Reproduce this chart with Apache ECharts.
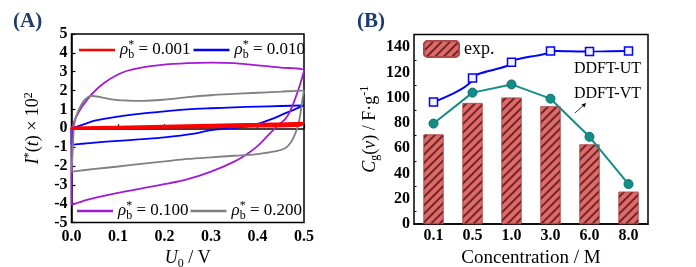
<!DOCTYPE html>
<html><head><meta charset="utf-8">
<script src="https://cdn.jsdelivr.net/npm/echarts@6/dist/echarts.min.js"></script>
<style>html,body{margin:0;padding:0;background:#fff}#c{width:696px;height:267px}</style>
</head><body><div id="c"></div>
<script>
// ---- Panel A data (U0 in V, I*(t) x 10^2) ----
const redU = [0, 0.1, 0.2, 0.3, 0.4, 0.5, 0.5, 0.49, 0.4, 0.3, 0.2, 0.1, 0.0, 0];
const redI = [0.02, 0.07, 0.12, 0.17, 0.22, 0.28, 0.25, 0.15, 0.1, 0.07, 0.04, 0.01, -0.03, 0.02];
const blueU = [0, 0.02, 0.05, 0.1, 0.15, 0.2, 0.25, 0.3, 0.35, 0.4, 0.45, 0.5, 0.48, 0.46, 0.43, 0.4, 0.38, 0.35, 0.3, 0.26, 0.2, 0.15, 0.1, 0.05, 0.02, 0.005, 0, 0];
const blueI = [0, 0.15, 0.4, 0.62, 0.78, 0.9, 1.0, 1.06, 1.11, 1.15, 1.18, 1.21, 1.0, 0.8, 0.48, 0.22, 0.1, 0.02, -0.1, -0.3, -0.48, -0.58, -0.67, -0.76, -0.83, -0.87, -0.87, 0];
const purpleU = [0, 0.005, 0.01, 0.02, 0.03, 0.046, 0.07, 0.1, 0.12, 0.15, 0.19, 0.25, 0.3, 0.35, 0.39, 0.45, 0.5, 0.495, 0.49, 0.48, 0.47, 0.46, 0.445, 0.42, 0.4, 0.38, 0.35, 0.3, 0.25, 0.2, 0.15, 0.1, 0.05, 0.02, 0.005, 0, 0];
const purpleI = [0, 0.3, 0.6, 1.05, 1.4, 1.87, 2.4, 2.85, 3.05, 3.22, 3.35, 3.45, 3.48, 3.45, 3.36, 3.22, 3.07, 2.6, 2.2, 1.5, 0.9, 0.5, 0.18, -0.45, -0.95, -1.32, -1.77, -2.3, -2.7, -2.97, -3.2, -3.43, -3.7, -3.9, -4.02, -4.05, 0];
const grayU = [0, 0.003, 0.005, 0.008, 0.015, 0.025, 0.035, 0.045, 0.06, 0.09, 0.12, 0.155, 0.2, 0.25, 0.3, 0.35, 0.39, 0.45, 0.497, 0.5, 0.497, 0.493, 0.488, 0.48, 0.473, 0.46, 0.44, 0.42, 0.39, 0.35, 0.3, 0.25, 0.2, 0.15, 0.1, 0.05, 0.01, 0];
const grayI = [-2.3, -1, 0, 0.45, 0.95, 1.4, 1.65, 1.71, 1.66, 1.52, 1.47, 1.45, 1.52, 1.65, 1.75, 1.82, 1.87, 1.94, 2.0, 2.0, 1.6, 0.9, 0.2, -0.35, -0.7, -1.05, -1.22, -1.3, -1.4, -1.46, -1.54, -1.63, -1.76, -1.89, -2.03, -2.16, -2.27, -2.3];
const densityNames = ['0.001', '0.010', '0.100', '0.200'];
const xTicksA = ['0.0', '0.1', '0.2', '0.3', '0.4', '0.5'];

// ---- Panel B data ----
const concentrations = ['0.1', '0.5', '1.0', '3.0', '6.0', '8.0'];
const expValues = [70.8, 95.7, 100, 93.1, 62.9, 25.5];
const ddftUT = [96.5, 115.5, 128, 137, 136.5, 137];
const ddftVT = [79.5, 104, 110.5, 99.2, 69, 31.6];

const zip = (a, b) => a.map((v, i) => [v, b[i]]);
const SERIF = "'Liberation Serif','DejaVu Serif',serif";

const chart = echarts.init(document.getElementById('c'), null, {renderer: 'canvas'});

const axisLineStyle = {lineStyle: {color: '#000', width: 1.5}};
const tickLabel = {color: '#000', fontFamily: SERIF, fontWeight: 'bold', fontSize: 16};

const richName = {
  n: {fontFamily: SERIF, fontSize: 18, color: '#000', lineHeight: 22},
  i: {fontFamily: SERIF, fontSize: 18, fontStyle: 'italic', color: '#000', lineHeight: 22},
  sub: {fontFamily: SERIF, fontSize: 12, color: '#000', lineHeight: 12, verticalAlign: 'bottom'},
  sup: {fontFamily: SERIF, fontSize: 12, color: '#000', lineHeight: 12, verticalAlign: 'top'}
};
const richLegend = {
  r: {fontFamily: SERIF, fontSize: 17, fontStyle: 'italic', color: '#000', lineHeight: 22},
  st: {fontFamily: SERIF, fontSize: 12, color: '#000', lineHeight: 11, verticalAlign: 'top', width: 0},
  sb: {fontFamily: SERIF, fontSize: 12, color: '#000', lineHeight: 11, verticalAlign: 'bottom'},
  n: {fontFamily: SERIF, fontSize: 17, color: '#000', lineHeight: 22}
};
const legendFmt = name => '{r|ρ}{st|*}{sb|b}{n| = ' + name + '}';

const colorsA = ['#ff0000', '#0000ff', '#a31ad6', '#808080'];
const loops = [zip(redU, redI), zip(blueU, blueI), zip(purpleU, purpleI), zip(grayU, grayI)];

const seriesA = loops.map((d, k) => ({
  name: densityNames[k], type: 'line', xAxisIndex: 0, yAxisIndex: 0,
  data: d, symbol: 'none', smooth: 0.3, clip: true,
  lineStyle: {color: colorsA[k], width: k === 0 ? 2.5 : 1.8}, itemStyle: {color: colorsA[k]}, z: 3 + (k === 0 ? 2 : 0)
}));

const option = {
  animation: false,
  backgroundColor: '#fff',
  grid: [
    {left: 71.5, top: 34, right: 392, bottom: 44.5, show: true, borderColor: '#000', borderWidth: 1.5, containLabel: false, outerBoundsMode: 'none'},
    {left: 414, top: 34.5, right: 48, bottom: 43, show: true, borderColor: '#000', borderWidth: 1.5, containLabel: false, outerBoundsMode: 'none'}
  ],
  legend: [
    {data: ['0.001', '0.010'], left: 79, top: 39, itemWidth: 36, itemHeight: 2.5, icon: 'rect', itemGap: 3, formatter: legendFmt, textStyle: {rich: richLegend}, padding: 0},
    {data: ['0.100', '0.200'], left: 77, top: 200, itemWidth: 36, itemHeight: 2.5, icon: 'rect', itemGap: 2, formatter: legendFmt, textStyle: {rich: richLegend}, padding: 0},
    {data: ['exp.'], left: 423, top: 40, itemWidth: 35, itemHeight: 16, padding: 0, textStyle: {fontFamily: SERIF, fontSize: 18, color: '#000'}}
  ],
  xAxis: [
    {type: 'value', gridIndex: 0, min: 0, max: 0.5, interval: 0.1,
     axisLine: axisLineStyle, axisTick: {inside: true, length: 4, lineStyle: {color: '#000', width: 1.2}},
     axisLabel: Object.assign({margin: 6, formatter: v => xTicksA[Math.round(v * 10)]}, tickLabel),
     splitLine: {show: false},
     name: '{i|U}{sub|0}{n| / V}', nameLocation: 'middle', nameGap: 19, nameTextStyle: {rich: richName}},
    {type: 'category', gridIndex: 1, data: concentrations,
     axisLine: axisLineStyle, axisTick: {inside: true, length: 4, alignWithLabel: true, lineStyle: {color: '#000', width: 1.2}},
     axisLabel: Object.assign({margin: 4}, tickLabel),
     name: 'Concentration / M', nameLocation: 'middle', nameGap: 16,
     nameTextStyle: {fontFamily: SERIF, fontSize: 19, color: '#000'}}
  ],
  yAxis: [
    {type: 'value', gridIndex: 0, min: -5, max: 5, interval: 1,
     axisLine: axisLineStyle, axisTick: {inside: true, length: 4, lineStyle: {color: '#000', width: 1.2}},
     axisLabel: Object.assign({margin: 4}, tickLabel), splitLine: {show: false},
     name: '{i|I}{sup|*}{n|(}{i|t}{n|) × 10}{sup|2}', nameLocation: 'middle', nameGap: 27, nameTextStyle: {rich: richName}},
    {type: 'value', gridIndex: 1, min: 0, max: 150, interval: 20,
     axisLine: axisLineStyle, axisTick: {inside: true, length: 4, lineStyle: {color: '#000', width: 1.2}},
     minorTick: {show: true, splitNumber: 2, length: 2.5, lineStyle: {color: '#000', width: 1}},
     axisLabel: Object.assign({margin: 4, showMaxLabel: false}, tickLabel), splitLine: {show: false},
     name: '{i|C}{sub|g}{n|(}{i|v}{n|) / F·g}{sup|-1}', nameLocation: 'middle', nameGap: 33, nameTextStyle: {rich: richName}}
  ],
  series: seriesA.concat([
    {name: 'exp.', type: 'bar', xAxisIndex: 1, yAxisIndex: 1, data: expValues, barWidth: 20,
     itemStyle: {color: '#e06a6a', borderColor: '#b04848', borderWidth: 0.6,
       decal: {symbol: 'rect', symbolSize: 1, dashArrayX: [1, 0], dashArrayY: [1.2, 3.2], rotation: -Math.PI / 4, color: 'rgba(70,15,15,0.75)'}}},
    {name: 'DDFT-UT', type: 'line', xAxisIndex: 1, yAxisIndex: 1, data: ddftUT, smooth: 0.4, smoothMonotone: 'y',
     symbol: 'rect', symbolSize: 8, lineStyle: {color: '#0000ff', width: 2},
     itemStyle: {color: '#f4f4ff', borderColor: '#0000ff', borderWidth: 1.5}, z: 4},
    {name: 'DDFT-VT', type: 'line', xAxisIndex: 1, yAxisIndex: 1, data: ddftVT,
     symbol: 'circle', symbolSize: 9, lineStyle: {color: '#138d87', width: 2},
     itemStyle: {color: '#138d87', borderColor: '#0c6e69', borderWidth: 1}, z: 4}
  ]),
  graphic: [
    {type: 'text', left: 13, top: 11, style: {text: '(A)', font: "bold 21px " + SERIF, fill: '#1f3c6e'}},
    {type: 'text', left: 357, top: 11, style: {text: '(B)', font: "bold 21px " + SERIF, fill: '#1f3c6e'}},
    {type: 'text', left: 574, top: 61, style: {text: 'DDFT-UT', font: "16px " + SERIF, fill: '#000'}},
    {type: 'text', left: 574, top: 86, style: {text: 'DDFT-VT', font: "16px " + SERIF, fill: '#000'}},
    {type: 'line', shape: {x1: 575, y1: 113, x2: 585, y2: 104}, style: {stroke: '#000', lineWidth: 0.8}},
    {type: 'polygon', shape: {points: [[586, 103], [581.5, 104.5], [584.5, 107.5]]}, style: {fill: '#000'}}
  ]
};
chart.setOption(option);
</script></body></html>
